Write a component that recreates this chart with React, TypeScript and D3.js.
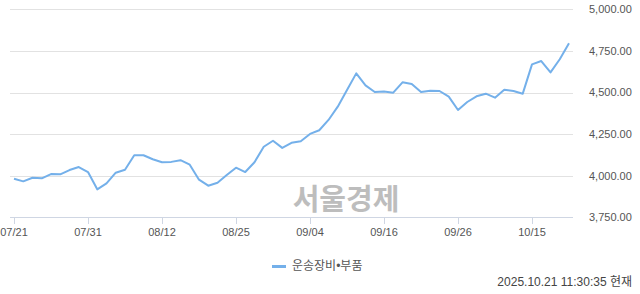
import React from "react";
import * as d3 from "d3";

const dates = [
  "07/21","07/22","07/23","07/24","07/25","07/28","07/29","07/30","07/31",
  "08/01","08/04","08/05","08/06","08/07","08/08","08/11","08/12",
  "08/13","08/14","08/18","08/19","08/20","08/21","08/22","08/25",
  "08/26","08/27","08/28","08/29","09/01","09/02","09/03","09/04",
  "09/05","09/08","09/09","09/10","09/11","09/12","09/15","09/16",
  "09/17","09/18","09/19","09/22","09/23","09/24","09/25","09/26",
  "09/29","09/30","10/01","10/02","10/10","10/13","10/14","10/15",
  "10/16","10/17","10/20","10/21",
];
const values = [
  3982, 3966, 3988, 3984, 4010, 4008, 4034, 4052, 4022,
  3918, 3954, 4018, 4036, 4123, 4123, 4099, 4081,
  4083, 4093, 4066, 3976, 3940, 3958, 4004, 4048,
  4022, 4081, 4174, 4210, 4167, 4198, 4207, 4251,
  4273, 4335, 4415, 4515, 4615, 4543, 4503, 4506,
  4499, 4561, 4551, 4503, 4511, 4509, 4475, 4395,
  4443, 4477, 4493, 4469, 4517, 4509, 4493, 4669,
  4689, 4621, 4700, 4796,
];
const tickLabels = ["07/21","07/31","08/12","08/25","09/04","09/16","09/26","10/15"];
const yTicks = [3750, 4000, 4250, 4500, 4750, 5000];
const seriesName = "운송장비•부품";
const timestamp = "2025.10.21 11:30:35 현재";

const W = 640, H = 294;
const FONT = "'Liberation Sans', 'Noto Sans CJK KR', sans-serif";

export default function App() {
  const x = d3.scalePoint<string>().domain(dates).range([14, 569]);
  const y = d3.scaleLinear().domain([3750, 5000]).range([217.3, 9.3]);
  const line = d3.line<number>().x((_, i) => x(dates[i])!).y((d) => y(d));
  const fmt = d3.format(",.2f");
  return (
    <div style={{ position: "absolute", left: 0, top: 0 }}>
      <svg width={W} height={H} style={{ display: "block", background: "#fff" }} fontFamily={FONT}>
        {yTicks.map((t) => (
          <g key={t}>
            {t !== 3750 && (
              <line x1={10} x2={573} y1={Math.round(y(t)) + 0.5} y2={Math.round(y(t)) + 0.5} stroke="#e2e2e2" strokeWidth={1} />
            )}
            <text x={589} y={y(t)} dy="0.35em" fontSize={11} fill="#555">{fmt(t)}</text>
          </g>
        ))}
        <line x1={10} x2={573} y1={217.5} y2={217.5} stroke="#cfd6e3" strokeWidth={1} />
        {tickLabels.map((t) => (
          <g key={t}>
            <line x1={Math.round(x(t)!) + 0.5} x2={Math.round(x(t)!) + 0.5} y1={217} y2={224} stroke="#cfd6e3" strokeWidth={1} />
            <text x={x(t)!} y={236} textAnchor="middle" fontSize={11} fill="#555">{t}</text>
          </g>
        ))}
        <text x={346} y={210} textAnchor="middle" fontSize={29} fontWeight="bold" fill="#bdbdbd" fontFamily="'Noto Sans CJK KR', sans-serif">서울경제</text>
        <path d={line(values)!} fill="none" stroke="#74b0ea" strokeWidth={2} strokeLinejoin="round" />
        <line x1={272} x2={286} y1={266.5} y2={266.5} stroke="#74b0ea" strokeWidth={3} />
        <text x={292} y={266} dy="0.35em" fontSize={12} fill="#555">{seriesName}</text>
        <text x={632} y={282} dy="0.35em" textAnchor="end" fontSize={12} fill="#444">{timestamp}</text>
      </svg>
    </div>
  );
}
